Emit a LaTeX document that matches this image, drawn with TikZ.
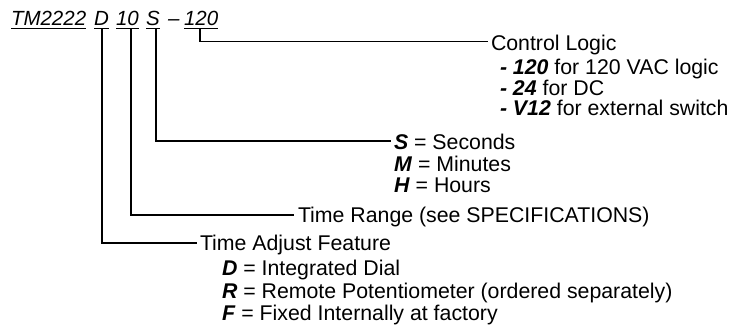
\documentclass[tikz,border=0pt]{standalone}
\usepackage{fontspec}
\setmainfont{Liberation Sans}
\usetikzlibrary{calc}
\newcommand\bi[1]{\textbf{\textit{#1}}}
\begin{document}
\begin{tikzpicture}[x=1pt,y=-1pt,
  every node/.style={inner sep=0pt,outer sep=0pt,font=\fontsize{21.3}{24}\selectfont},
  lbl/.style={anchor=west,text height=15pt,text depth=0pt},
  hdr/.style={anchor=base west,font=\fontsize{20.5}{23}\selectfont\itshape},
  conn/.style={line width=1.7pt},
  uline/.style={line width=1.4pt}]
\useasboundingbox (0,0) rectangle (753,328);
% header
\node[hdr] (tm) at (11,26) {TM2222};
\node[hdr] (d) at (94,26) {D};
\node[hdr] (ten) at (116,26) {10};
\node[hdr] (s) at (146,26) {S};
\node[hdr] (dash) at (168,26) {–};
\node[hdr] (ot) at (184,26) {120};
\foreach \n in {tm,d,ten,s,ot}{
  \draw[uline] ($(\n.base west)+(0,2.5)$) -- ($(\n.base east)+(0,2.5)$);
}
% labels
\node[lbl] (ctrl) at (491,43) {Control Logic};
\node[lbl] (c1) at (500,67) {\bi{- 120} for 120 VAC logic};
\node[lbl] (c2) at (500,88) {\bi{- 24} for DC};
\node[lbl] (c3) at (500,108) {\bi{- V12} for external switch};
\node[lbl] (sec) at (394,142) {\bi{S} = Seconds};
\node[lbl] (mins) at (394,164) {\bi{M} = Minutes};
\node[lbl] (hrs) at (394,185) {\bi{H} = Hours};
\node[lbl] (trange) at (298,215) {Time Range (see SPECIFICATIONS)};
\node[lbl] (tadj) at (200,243) {Time Adjust Feature};
\node[lbl] (dd) at (222,268) {\bi{D} = Integrated Dial};
\node[lbl] (rr) at (222,291) {\bi{R} = Remote Potentiometer (ordered separately)};
\node[lbl] (ff) at (222,313) {\bi{F} = Fixed Internally at factory};
% connectors
\coordinate (pot) at (200,28.5);
\coordinate (ps) at (156,28.5);
\coordinate (pten) at (131,28.5);
\coordinate (pd) at (101.7,28.5);
\draw[conn] (pot) |- ($(ctrl.west)+(-3,-1.5)$);
\draw[conn] (ps) |- ($(sec.west)+(-3,-1)$);
\draw[conn] (pten) |- ($(trange.west)+(-4,0)$);
\draw[conn] (pd) |- ($(tadj.west)+(-3,0)$);
\end{tikzpicture}
\end{document}
